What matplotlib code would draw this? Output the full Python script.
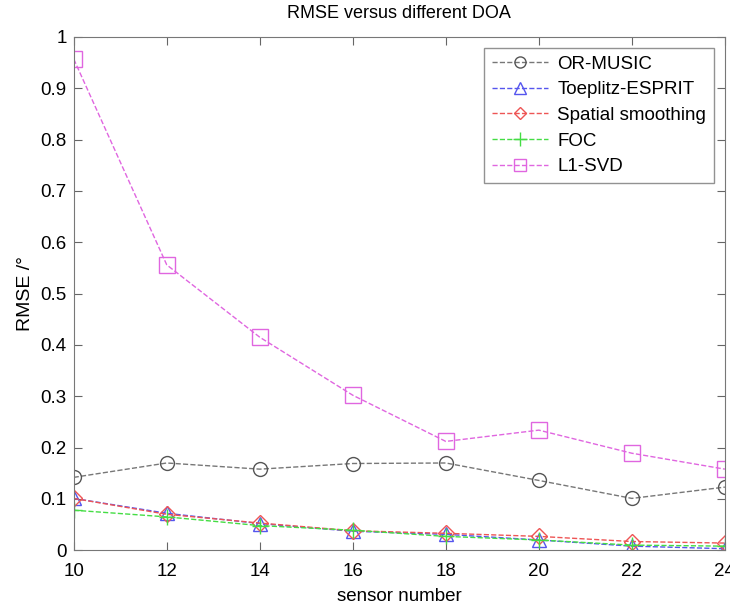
import numpy as np
import matplotlib
matplotlib.use("Agg")
from matplotlib import pyplot as plt

plt.rcParams['font.family'] = ['Liberation Sans', 'DejaVu Sans']

# data
sensors = [10, 12, 14, 16, 18, 20, 22, 24]
or_music = [0.142, 0.170, 0.158, 0.169, 0.170, 0.136, 0.101, 0.123]
toeplitz = [0.101, 0.072, 0.052, 0.037, 0.031, 0.020, 0.008, 0.003]
spatial = [0.101, 0.070, 0.053, 0.038, 0.033, 0.027, 0.017, 0.014]
foc = [0.078, 0.065, 0.048, 0.039, 0.027, 0.020, 0.010, 0.008]
l1_svd = [0.957, 0.556, 0.415, 0.302, 0.212, 0.234, 0.189, 0.158]

fig = plt.figure(figsize=(7.3, 6.06), dpi=100)
ax = fig.add_axes([0.101, 0.092, 0.892, 0.847])

ax.plot(sensors, or_music, '--', color='#777777', marker='o', markersize=10,
        markerfacecolor='none', markeredgecolor='#555555', label='OR-MUSIC', lw=1)
ax.plot(sensors, toeplitz, '--', color='#5555ee', marker='^', markersize=10,
        markerfacecolor='none', label='Toeplitz-ESPRIT', lw=1)
ax.plot(sensors, spatial, '--', color='#ee5555', marker='D', markersize=8,
        markerfacecolor='none', label='Spatial smoothing', lw=1)
ax.plot(sensors, foc, '--', color='#44dd44', marker='+', markersize=12,
        label='FOC', lw=1)
ax.plot(sensors, l1_svd, '--', color='#e066e0', marker='s', markersize=11,
        markerfacecolor='none', label='L1-SVD', lw=1)

ax.set_xlim(10, 24)
ax.set_ylim(0, 1)
ax.set_xticks(sensors)
ax.set_yticks(np.arange(0, 1.01, 0.1))
ax.set_yticklabels(['0', '0.1', '0.2', '0.3', '0.4', '0.5', '0.6', '0.7', '0.8', '0.9', '1'])
ax.tick_params(direction='in', top=True, right=True, labelsize=13.5, length=6, color='#666666')
ax.tick_params(axis='x', pad=9)
ax.tick_params(axis='y', pad=5)
for s in ax.spines.values():
    s.set_color('#777777')

ax.set_xlabel('sensor number', fontsize=13.5, labelpad=6)
ax.set_ylabel('RMSE /°', fontsize=14, labelpad=5)
ax.set_title('RMSE versus different DOA', fontsize=13, pad=14)

leg = ax.legend(loc='upper right', fontsize=13.5, fancybox=False, borderaxespad=0.6,
                handlelength=3.0, edgecolor='#777777', markerscale=0.8,
                labelspacing=0.45, borderpad=0.4, handletextpad=0.5)
leg.get_frame().set_linewidth(1)

fig.savefig('out.png', dpi=100)
